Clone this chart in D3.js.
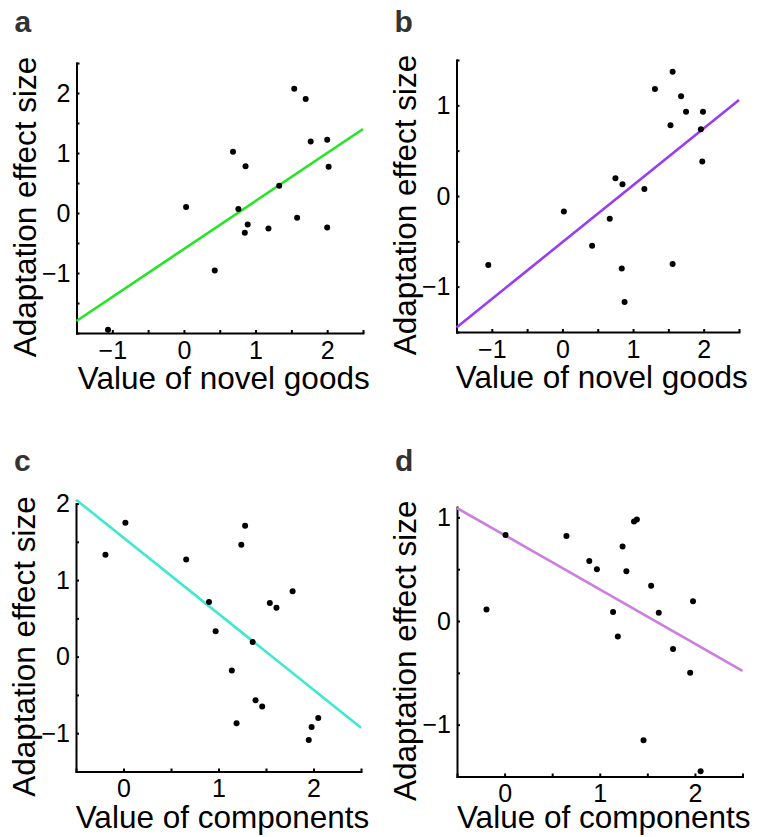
<!DOCTYPE html>
<html>
<head>
<meta charset="utf-8">
<script src="https://cdn.jsdelivr.net/npm/d3@7"></script>
<style>
  body { margin: 0; background: #fff; }
  svg { display: block; font-family: "Liberation Sans", Arial, sans-serif; }
</style>
</head>
<body>
<script>
// data
var aX = [1.54, 1.70, 1.77, 2.00, 2.02, 0.685, 0.86, 1.33, 0.03, 0.76, 1.58, 0.89, 0.85, 1.18, 2.00, 0.43, -1.06];
var aY = [2.07, 1.90, 1.19, 1.22, 0.77, 1.02, 0.78, 0.455, 0.10, 0.067, -0.08, -0.19, -0.33, -0.26, -0.24, -0.96, -1.945];
var bX = [1.56, 1.31, 1.68, 1.75, 1.99, 1.53, 1.96, 1.98, 0.75, 0.85, 1.16, 0.02, 0.67, 0.42, -1.05, 0.84, 1.56, 0.88];
var bY = [1.37, 1.18, 1.10, 0.93, 0.93, 0.78, 0.735, 0.38, 0.195, 0.13, 0.077, -0.17, -0.25, -0.55, -0.76, -0.80, -0.75, -1.17];
var cX = [0.02, -0.19, 0.66, 1.28, 1.24, 1.78, 1.54, 1.61, 0.90, 0.97, 1.36, 1.14, 1.39, 1.46, 1.19, 2.05, 1.98, 1.95];
var cY = [1.75, 1.33, 1.27, 1.71, 1.46, 0.855, 0.70, 0.64, 0.715, 0.33, 0.19, -0.18, -0.57, -0.65, -0.87, -0.80, -0.92, -1.09];
var dX = [-0.19, 0.01, 0.65, 0.89, 0.97, 1.24, 1.28, 1.36, 1.39, 1.54, 1.14, 1.19, 1.62, 1.98, 1.77, 1.95, 1.46, 2.06];
var dY = [0.11, 0.83, 0.82, 0.58, 0.50, 0.72, 0.48, 0.96, 0.98, 0.34, 0.086, -0.15, 0.08, 0.19, -0.27, -0.50, -1.15, -1.45];

// regression lines (end points)
var aFitX = [-1.5, 2.5], aFitY = [-1.8, 1.4];
var bFitX = [-1.5, 2.5], bFitY = [-1.45, 1.06];
var cFitX = [-0.5, 2.5], cFitY = [2.05, -0.93];
var dFitX = [-0.5, 2.5], dFitY = [1.09, -0.48];

// axis limits, ticks and labelled ticks
var xLimNovel = [-1.5, 2.5], xLimComp = [-0.5, 2.5];
var yLimA = [-2, 2.5], yLimB = [-1.5, 1.5], yLimC = [-1.5, 2], yLimD = [-1.5, 1.1];
var xTicksNovel = [-1.5, -1, -0.5, 0, 0.5, 1, 1.5, 2, 2.5];
var xTicksComp = [-0.5, 0, 0.5, 1, 1.5, 2, 2.5];
var yTicksA = [-2, -1.5, -1, -0.5, 0, 0.5, 1, 1.5, 2, 2.5];
var yTicksB = [-1.5, -1, -0.5, 0, 0.5, 1, 1.5];
var yTicksC = [-1.5, -1, -0.5, 0, 0.5, 1, 1.5, 2];
var yTicksD = [-1.5, -1, -0.5, 0, 0.5, 1];
var xLabelsNovel = [-1, 0, 1, 2], xLabelsComp = [0, 1, 2];
var yLabelsA = [-1, 0, 1, 2], yLabelsB = [-1, 0, 1], yLabelsC = [-1, 0, 1, 2], yLabelsD = [-1, 0, 1];

var yTitle = "Adaptation effect size";
var xTitleNovel = "Value of novel goods", xTitleComp = "Value of components";

var svg = d3.select("body").append("svg")
    .attr("width", 758)
    .attr("height", 837);

function labeller(shown) {
  return function(d) { return shown.indexOf(d) >= 0 ? d3.format("d")(d) : ""; };
}

function panel(p) {
  var x = d3.scaleLinear().domain(p.xLim).range([p.left, p.right]);
  var y = d3.scaleLinear().domain(p.yLim).range([p.bottom, p.top]);
  var g = svg.append("g");

  // panel letter
  g.append("text")
      .attr("x", p.left - 62).attr("y", p.letterY)
      .attr("font-size", 30).attr("font-weight", "bold").attr("fill", "#333")
      .text(p.letter);

  var xAxis = d3.axisBottom(x).tickValues(p.xTicks).tickFormat(labeller(p.xLabels))
      .tickSizeInner(-3).tickSizeOuter(0).tickPadding(8);
  var yAxis = d3.axisLeft(y).tickValues(p.yTicks).tickFormat(labeller(p.yLabels))
      .tickSizeInner(-3).tickSizeOuter(0).tickPadding(6);

  var gx = g.append("g").attr("transform", "translate(0," + p.bottom + ")").call(xAxis);
  var gy = g.append("g").attr("transform", "translate(" + p.left + ",0)").call(yAxis);
  [gx, gy].forEach(function(a) {
    a.selectAll("path").attr("stroke", "#000").attr("stroke-width", 2).attr("stroke-linecap", "square");
    a.selectAll("line").attr("stroke", "#000").attr("stroke-width", 2);
    a.selectAll("text").attr("font-size", 25).attr("fill", "#000")
        .attr("font-family", "'Liberation Sans', Arial, sans-serif");
    // minor ticks carry no label
    a.selectAll(".tick text").filter(function() { return this.textContent === ""; }).remove();
  });

  // regression line
  g.append("path")
      .datum(d3.zip(p.fitX, p.fitY))
      .attr("fill", "none").attr("stroke", p.color).attr("stroke-width", 2.6)
      .attr("d", d3.line().x(function(d) { return x(d[0]); }).y(function(d) { return y(d[1]); }));

  // data points
  g.selectAll("circle.pt")
      .data(d3.zip(p.xs, p.ys))
      .enter().append("circle")
      .attr("class", "pt")
      .attr("cx", function(d) { return x(d[0]); })
      .attr("cy", function(d) { return y(d[1]); })
      .attr("r", 3)
      .attr("fill", "#000");

  // axis titles
  g.append("text")
      .attr("x", (p.left + p.right) / 2 + 4).attr("y", p.titleY)
      .attr("text-anchor", "middle").attr("font-size", 31.5).attr("fill", "#000")
      .text(p.xTitle);
  g.append("text")
      .attr("transform", "translate(" + (p.left - 41) + "," + ((p.top + p.bottom) / 2 + 9) + ") rotate(-90)")
      .attr("text-anchor", "middle").attr("font-size", 31.5).attr("fill", "#000")
      .text(yTitle);
}

panel({letter: "a", xs: aX, ys: aY, fitX: aFitX, fitY: aFitY, color: "#22e622",
  xLim: xLimNovel, yLim: yLimA, xTicks: xTicksNovel, yTicks: yTicksA,
  xLabels: xLabelsNovel, yLabels: yLabelsA, xTitle: xTitleNovel,
  left: 76.5, right: 363, top: 63, bottom: 333, letterY: 32, titleY: 389});
panel({letter: "b", xs: bX, ys: bY, fitX: bFitX, fitY: bFitY, color: "#9a3cf0",
  xLim: xLimNovel, yLim: yLimB, xTicks: xTicksNovel, yTicks: yTicksB,
  xLabels: xLabelsNovel, yLabels: yLabelsB, xTitle: xTitleNovel,
  left: 456.5, right: 739, top: 60, bottom: 332, letterY: 32, titleY: 388});
panel({letter: "c", xs: cX, ys: cY, fitX: cFitX, fitY: cFitY, color: "#40e8d0",
  xLim: xLimComp, yLim: yLimC, xTicks: xTicksComp, yTicks: yTicksC,
  xLabels: xLabelsComp, yLabels: yLabelsC, xTitle: xTitleComp,
  left: 76, right: 361, top: 503.5, bottom: 771.5, letterY: 471, titleY: 828});
panel({letter: "d", xs: dX, ys: dY, fitX: dFitX, fitY: dFitY, color: "#cc7ddd",
  xLim: xLimComp, yLim: yLimD, xTicks: xTicksComp, yTicks: yTicksD,
  xLabels: xLabelsComp, yLabels: yLabelsD, xTitle: xTitleComp,
  left: 457, right: 742.5, top: 507, bottom: 776.5, letterY: 471, titleY: 828});
</script>
</body>
</html>
